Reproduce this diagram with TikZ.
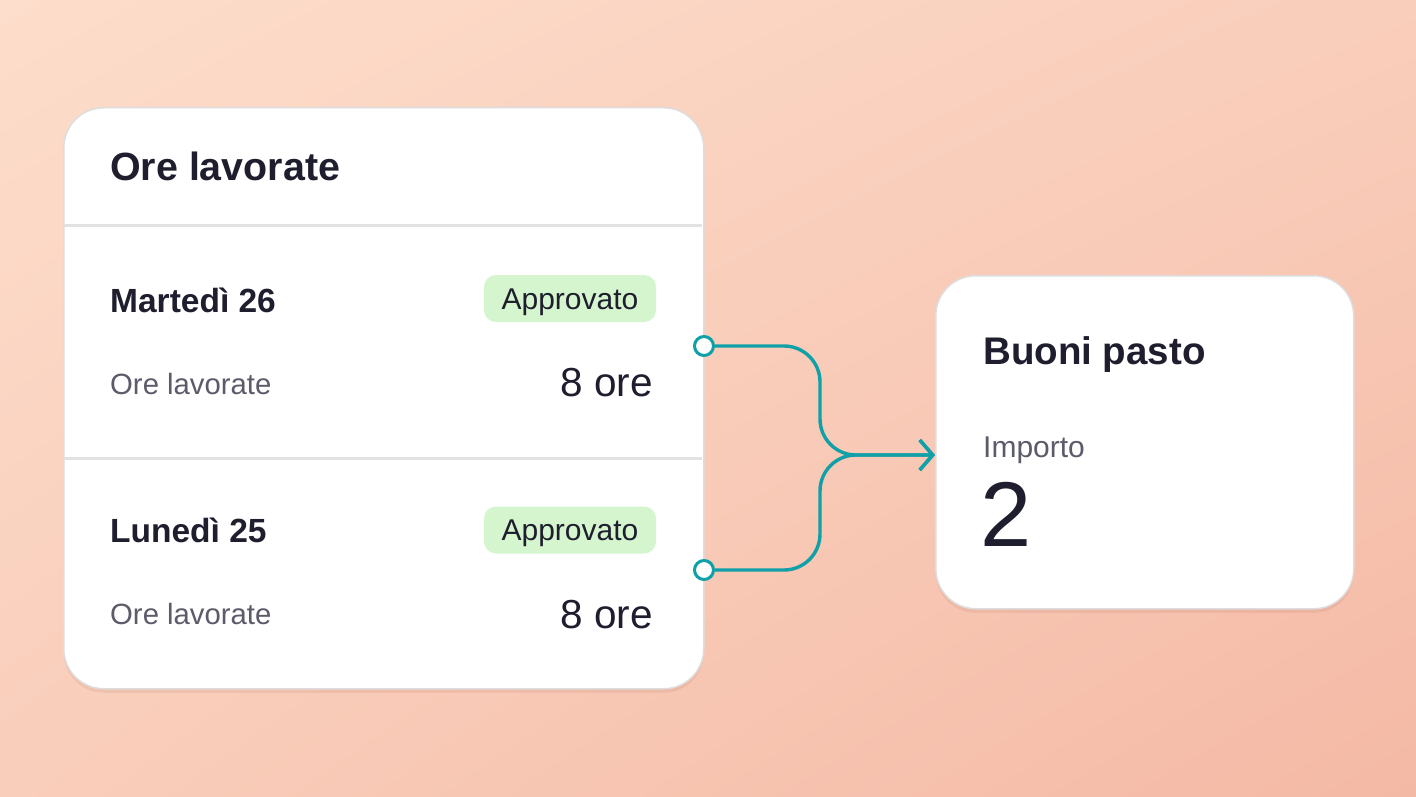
\documentclass[tikz,border=0pt]{standalone}
\usepackage{fontspec}
\setmainfont{Liberation Sans}
\usetikzlibrary{arrows.meta}
\usetikzlibrary{shadows}
\usetikzlibrary{shadings}

\definecolor{bgLight}{RGB}{253,221,203}
\definecolor{bgMid}{RGB}{249,206,187}
\definecolor{bgDark}{RGB}{244,185,165}
\definecolor{ink}{RGB}{31,30,46}
\definecolor{muted}{RGB}{92,91,106}
\definecolor{linkTeal}{RGB}{16,160,168}
\definecolor{okGreen}{RGB}{213,245,206}
\definecolor{ruleGray}{RGB}{226,226,228}
\definecolor{edgeGray}{RGB}{222,220,220}
\definecolor{shadowTone}{RGB}{150,80,60}

\tikzset{
  card/.style={draw=edgeGray, line width=1.5pt, fill=white, rounded corners=40pt,
    drop shadow={shadow xshift=0pt, shadow yshift=-4pt, opacity=0.1, fill=shadowTone}},
  divider/.style={ruleGray, line width=3pt},
  cardtitle/.style={inner sep=0pt, anchor=base west, text=ink, font=\fontsize{38.5}{44}\selectfont\bfseries},
  daytitle/.style={inner sep=0pt, anchor=base west, text=ink, font=\fontsize{33.5}{38}\selectfont\bfseries},
  hint/.style={inner sep=0pt, anchor=base west, text=muted, font=\fontsize{29.3}{34}\selectfont},
  hours/.style={inner sep=0pt, anchor=base east, text=ink, font=\fontsize{40.5}{46}\selectfont},
  badge/.style={fill=okGreen, rounded corners=12pt, minimum width=172pt, minimum height=47pt,
    text height=21pt, text depth=0pt, text=ink, font=\fontsize{30}{34}\selectfont},
  port/.style={circle, draw=linkTeal, fill=white, line width=3pt, minimum size=19pt, inner sep=0pt},
  link/.style={linkTeal, line width=3.4pt, rounded corners=36pt, -{Straight Barb[length=13pt, width=30pt]}}
}

\begin{document}
\begin{tikzpicture}[x=1pt, y=-1pt]
\useasboundingbox (0,0) rectangle (1416,797);
\shade[upper left=bgLight, upper right=bgMid, lower left=bgMid, lower right=bgDark] (0,0) rectangle (1416,797);

\node[card, minimum width=640pt, minimum height=581pt, anchor=north west] (oreCard) at (63,107) {};
\node[card, minimum width=418pt, minimum height=333pt, anchor=north west] (buoniCard) at (935,275) {};

\draw[divider] (64,225) -- (702,225);
\draw[divider] (64,458) -- (702,458);

\node[cardtitle, font=\fontsize{39.4}{44}\selectfont\bfseries] (oreTitle) at (110,180) {Ore lavorate};

\node[daytitle] (martedi) at (110,312) {Martedì 26};
\node[badge] (badgeMar) at (570,298.5) {Approvato};
\node[hint] (hintMar) at (110,394) {Ore lavorate};
\node[hours] (oreMar) at (653,396) {8 ore};

\node[daytitle] (lunedi) at (110,542) {Lunedì 25};
\node[badge] (badgeLun) at (570,530) {Approvato};
\node[hint] (hintLun) at (110,624) {Ore lavorate};
\node[hours] (oreLun) at (653,628) {8 ore};

\node[cardtitle] (buoniTitle) at (983,364) {Buoni pasto};
\node[hint, font=\fontsize{30}{34}\selectfont] (importoLbl) at (983,457) {Importo};
\node[inner sep=0pt, anchor=base west, text=ink, font=\fontsize{92}{100}\selectfont] (importoVal) at (980,546) {2};

\coordinate (join) at (820,455);
\node[port] (portMar) at (704,346) {};
\node[port] (portLun) at (704,570) {};
\draw[link] (portMar.east) -| (join) -- (buoniCard.west |- join);
\draw[link] (portLun.east) -| (join) -- (buoniCard.west |- join);
\end{tikzpicture}
\end{document}
